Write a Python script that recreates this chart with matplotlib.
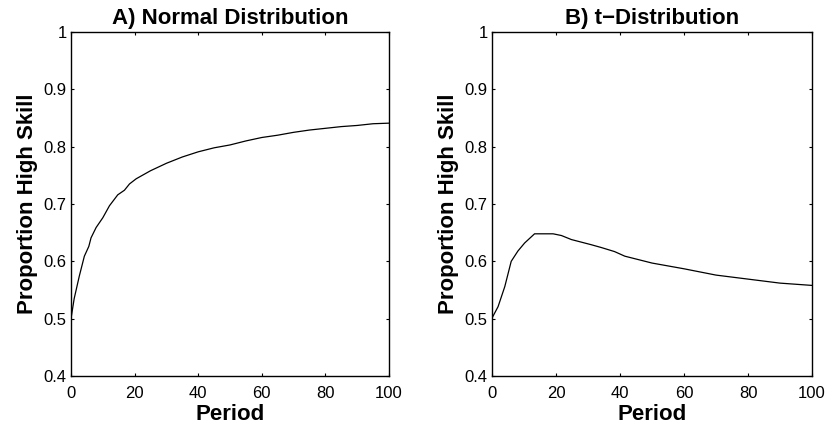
import matplotlib
matplotlib.use("Agg")
import matplotlib.pyplot as plt

plt.rcParams['font.family'] = ['Liberation Sans', 'DejaVu Sans']

# Panel A: Normal distribution (period, proportion high skill)
normal_period = [0, 1, 2.6, 4.2, 5.6, 6.3, 7.9, 10, 12.1, 14.7, 16.8, 18.4, 20.5,
                 25, 30, 35, 40, 45, 50, 55, 60, 65, 70, 75, 80, 85, 90, 95, 100]
normal_prop = [0.5, 0.535, 0.574, 0.609, 0.626, 0.641, 0.659, 0.676, 0.697, 0.716,
               0.724, 0.735, 0.744, 0.758, 0.771, 0.782, 0.791, 0.798, 0.803, 0.810,
               0.816, 0.820, 0.825, 0.829, 0.832, 0.835, 0.837, 0.840, 0.841]

# Panel B: t-distribution
t_period = [0, 1.9, 4, 6, 8.1, 10.2, 13.3, 19.1, 21.7, 24.8, 31, 34.2, 38.3, 41.5,
            50, 60, 70, 80, 90, 100]
t_prop = [0.501, 0.521, 0.556, 0.600, 0.618, 0.632, 0.648, 0.648, 0.645, 0.638,
          0.629, 0.624, 0.617, 0.609, 0.597, 0.587, 0.576, 0.569, 0.562, 0.558]

titles = ["A) Normal Distribution", "B) t\u2212Distribution"]
xlabel = "Period"
ylabel = "Proportion High Skill"
xticks = [0, 20, 40, 60, 80, 100]
yticks = [0.4, 0.5, 0.6, 0.7, 0.8, 0.9, 1.0]
yticklabels = ["0.4", "0.5", "0.6", "0.7", "0.8", "0.9", "1"]

fig = plt.figure(figsize=(8.27, 4.29), dpi=100)
W, H = 827, 429
positions = [(71, 32, 389, 376), (492, 32, 812, 376)]
series = [(normal_period, normal_prop), (t_period, t_prop)]

for (l, t, r, b), (xs, ys), title in zip(positions, series, titles):
    ax = fig.add_axes([l / W, 1 - b / H, (r - l) / W, (b - t) / H])
    ax.plot(xs, ys, color='black', linewidth=0.9)
    ax.set_xlim(0, 100)
    ax.set_ylim(0.4, 1.0)
    ax.set_xticks(xticks)
    ax.set_xticklabels([str(v) for v in xticks])
    ax.set_yticks(yticks)
    ax.set_yticklabels(yticklabels)
    ax.tick_params(direction='in', top=True, right=True, length=2.5, width=0.8,
                   labelsize=12)
    ax.tick_params(axis='x', pad=7)
    ax.tick_params(axis='y', pad=3)
    for s in ax.spines.values():
        s.set_linewidth(1.0)
    ax.set_title(title, fontsize=16, fontweight='bold', pad=6)
    ax.set_xlabel(xlabel, fontsize=16, fontweight='bold', labelpad=2)
    ax.set_ylabel(ylabel, fontsize=16, fontweight='bold', labelpad=4)

fig.savefig("out.png", dpi=100)
